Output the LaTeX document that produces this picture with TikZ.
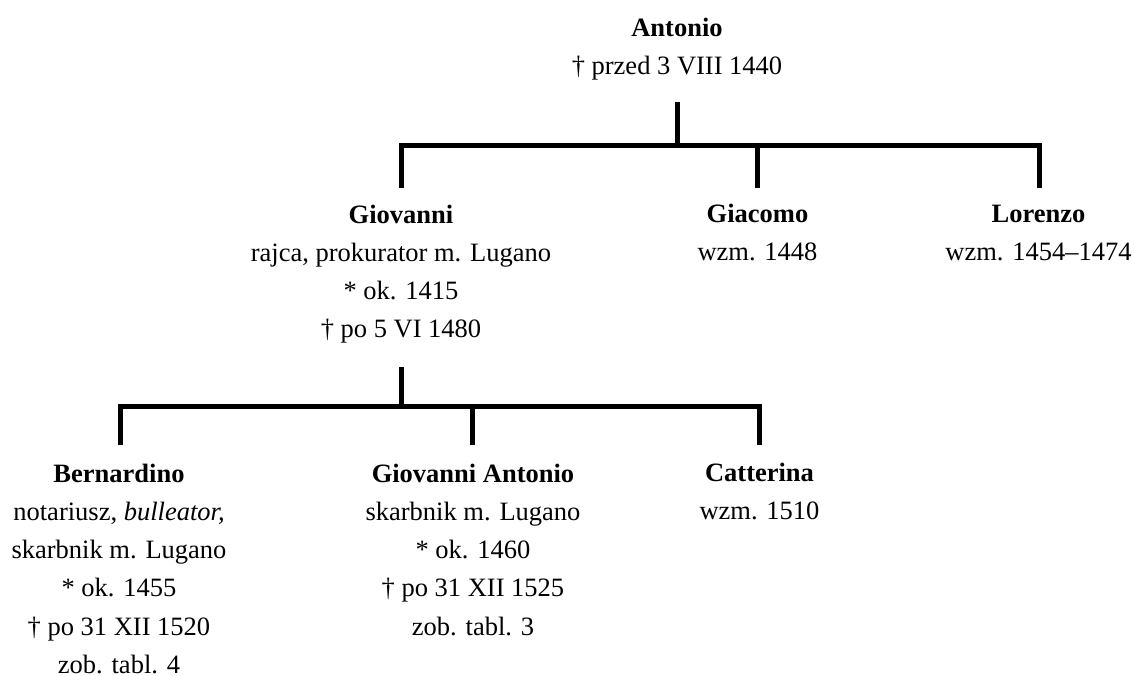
\documentclass[tikz,border=0pt]{standalone}
\usepackage{fontspec}
\setmainfont{Liberation Serif}
\begin{document}
\begin{tikzpicture}[x=1pt,y=-1pt,
  person/.style={inner sep=0pt,outer sep=0pt,anchor=base,
    font=\fontsize{26.5}{38.3}\selectfont},
  tie/.style={line width=5pt,line join=miter,line cap=butt}]
\useasboundingbox (0,0) rectangle (1134,675);
\newcommand{\pbox}[1]{\setlength{\tabcolsep}{0pt}\renewcommand{\arraystretch}{1}\begin{tabular}[t]{c}#1\end{tabular}}
% people
\node[person] (antonio) at (677,36) {\pbox{\textbf{Antonio}\\† przed 3 VIII 1440}};
\node[person] (giovanni) at (401,223) {\pbox{\textbf{Giovanni}\\rajca, prokurator m. Lugano\\{*} ok. 1415\\† po 5 VI 1480}};
\node[person] (giacomo) at (757.5,222) {\pbox{\textbf{Giacomo}\\wzm. 1448}};
\node[person] (lorenzo) at (1038.5,222) {\pbox{\textbf{Lorenzo}\\wzm. 1454–1474}};
\node[person] (bernardino) at (119,482) {\pbox{\textbf{Bernardino}\\notariusz, \textit{bulleator,}\\skarbnik m. Lugano\\{*} ok. 1455\\† po 31 XII 1520\\zob. tabl. 4}};
\node[person] (gioant) at (473,482) {\pbox{\textbf{Giovanni Antonio}\\skarbnik m. Lugano\\{*} ok. 1460\\† po 31 XII 1525\\zob. tabl. 3}};
\node[person] (catterina) at (759.5,481) {\pbox{\textbf{Catterina}\\wzm. 1510}};
% junction coordinates, level 1
\coordinate (aStem) at (677,102);
\coordinate (aBar) at (677,145);
\coordinate (gioBar) at (401,145);
\coordinate (gioEnd) at (401,188);
\coordinate (giaBar) at (757.5,145);
\coordinate (giaEnd) at (757.5,188);
\coordinate (lorBar) at (1039,145);
\coordinate (lorEnd) at (1039,188);
% junction coordinates, level 2
\coordinate (gStem) at (401,367);
\coordinate (gBar) at (401,406);
\coordinate (berBar) at (120,406);
\coordinate (berEnd) at (120,445);
\coordinate (gaBar) at (472.5,406);
\coordinate (gaEnd) at (472.5,445);
\coordinate (catBar) at (759.5,406);
\coordinate (catEnd) at (759.5,445);
% connectors
\draw[tie] (aStem) -- (aBar);
\draw[tie] (gioEnd) -- (gioBar) -- (lorBar) -- (lorEnd);
\draw[tie] (giaBar) -- (giaEnd);
\draw[tie] (gStem) -- (gBar);
\draw[tie] (berEnd) -- (berBar) -- (catBar) -- (catEnd);
\draw[tie] (gaBar) -- (gaEnd);
\end{tikzpicture}
\end{document}
